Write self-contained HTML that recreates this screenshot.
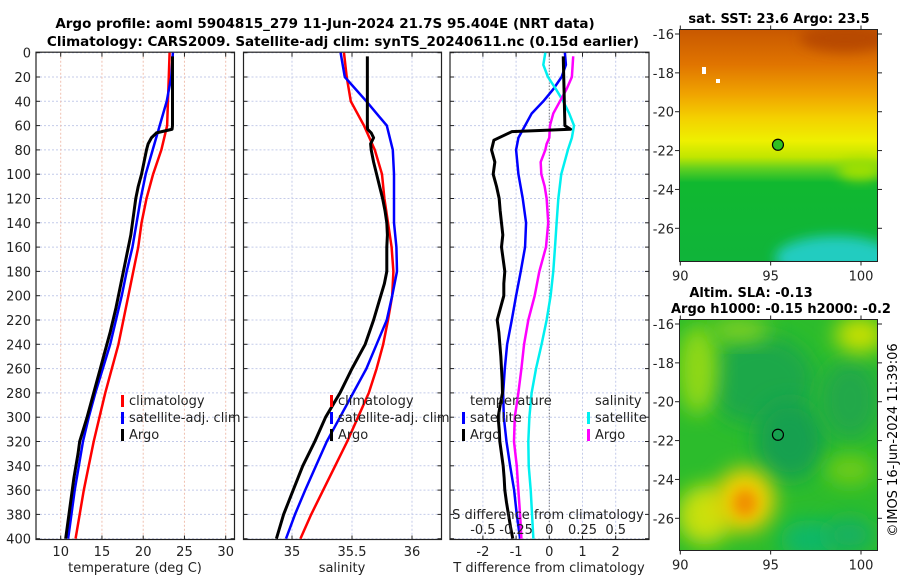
<!DOCTYPE html>
<html><head><meta charset="utf-8"><style>
html,body{margin:0;padding:0;background:#fff;}
svg{display:block;font-family:"DejaVu Sans","Liberation Sans",sans-serif;}
</style></head><body>
<svg id="fig" width="900" height="580" viewBox="0 0 900 580" xmlns="http://www.w3.org/2000/svg">
<defs>
<filter id="blur6" x="-50%" y="-50%" width="200%" height="200%"><feGaussianBlur stdDeviation="6"/></filter>
<filter id="blur10" x="-50%" y="-50%" width="200%" height="200%"><feGaussianBlur stdDeviation="10"/></filter>
<clipPath id="clipMap1"><rect x="679.5" y="29.5" width="198" height="232"/></clipPath>
<clipPath id="clipMap2"><rect x="679.5" y="319.5" width="198" height="231"/></clipPath>
<linearGradient id="sstGrad" x1="0" y1="0" x2="0" y2="1">
<stop offset="0" stop-color="#c85800"/><stop offset="0.15" stop-color="#e07400"/>
<stop offset="0.28" stop-color="#f0a400"/><stop offset="0.38" stop-color="#f4d000"/>
<stop offset="0.48" stop-color="#eef000"/><stop offset="0.55" stop-color="#c0e600"/>
<stop offset="0.6" stop-color="#60d020"/><stop offset="0.66" stop-color="#10b830"/>
<stop offset="1" stop-color="#10b43a"/></linearGradient>
</defs>
<g id="title" font-weight="bold" font-size="13.5" text-anchor="middle" fill="#000">
<text x="325" y="28">Argo profile: aoml 5904815_279 11-Jun-2024 21.7S 95.404E (NRT data)</text>
<text x="343" y="46">Climatology: CARS2009. Satellite-adj clim: synTS_20240611.nc (0.15d earlier)</text>
</g>
<g id="panels"></g>
<g id="maps"></g>
<text x="0" y="0" font-size="13" transform="translate(897,440) rotate(-90)" text-anchor="middle">©IMOS 16-Jun-2024 11:39:06</text>
</svg>
<script>
// ---------- data ----------
const climDepth = [0,20,40,60,80,100,120,140,160,180,200,220,240,260,280,300,320,340,360,380,400];
const tempClim = [23.2,23.1,23.0,22.9,22.2,21.2,20.4,19.8,19.4,18.8,18.2,17.6,17.0,16.2,15.4,14.7,14.0,13.4,12.8,12.3,11.8];
const tempSat = [23.6,23.4,22.85,22.0,21.15,20.3,19.7,19.2,18.7,18.0,17.4,16.7,16.0,15.1,14.2,13.4,12.7,12.2,11.7,11.3,10.9];
const salClim = [35.433,35.456,35.49,35.6,35.69,35.75,35.77,35.80,35.83,35.845,35.835,35.80,35.76,35.705,35.64,35.55,35.46,35.36,35.26,35.16,35.07];
const salSat = [35.405,35.44,35.62,35.79,35.84,35.85,35.85,35.85,35.87,35.875,35.835,35.79,35.705,35.62,35.51,35.40,35.29,35.2,35.11,35.025,34.95];
const argoDepth = [3,10,20,30,40,50,60,63,66,70,75,80,90,100,110,120,130,140,150,160,170,180,190,200,210,220,230,240,250,260,270,280,290,300,310,320,330,340,350,360,370,380,390,400];
const argoTemp = [23.55,23.55,23.55,23.55,23.55,23.55,23.55,23.5,21.6,21.0,20.6,20.4,20.1,19.8,19.4,19.1,18.9,18.7,18.5,18.2,17.9,17.6,17.3,17.0,16.7,16.35,16.0,15.6,15.2,14.8,14.4,14.0,13.6,13.2,12.75,12.3,12.1,11.85,11.6,11.4,11.2,11.0,10.8,10.6];
const argoSal = [35.628,35.628,35.628,35.628,35.628,35.628,35.628,35.63,35.66,35.68,35.655,35.66,35.68,35.705,35.73,35.755,35.775,35.79,35.795,35.79,35.79,35.79,35.77,35.74,35.71,35.68,35.645,35.61,35.555,35.50,35.45,35.40,35.34,35.28,35.235,35.19,35.14,35.09,35.05,35.01,34.97,34.93,34.90,34.87];
const tDiffArgoDepth = [3,60,63,65,72,80,90,100,110,120,130,140,150,160,170,180,190,200,210,220,230,240,250,260,270,280,290,300,310,320,330,340,350,360,370,380,390,400];
const tDiffArgo = [0.42,0.47,0.64,-1.13,-1.67,-1.74,-1.64,-1.69,-1.59,-1.51,-1.48,-1.44,-1.40,-1.44,-1.39,-1.34,-1.37,-1.37,-1.47,-1.57,-1.52,-1.49,-1.46,-1.44,-1.42,-1.41,-1.48,-1.54,-1.51,-1.49,-1.44,-1.39,-1.36,-1.34,-1.29,-1.23,-1.17,-1.10];
const satDiffDepth = [0,10,20,30,40,50,60,70,80,100,120,140,160,180,200,220,240,260,280,300,320,340,360,380,400];
const tDiffSat = [0.47,0.5,0.37,0.12,-0.18,-0.53,-0.73,-0.93,-1.0,-0.93,-0.80,-0.70,-0.73,-0.86,-1.0,-1.13,-1.27,-1.34,-1.39,-1.37,-1.29,-1.18,-1.06,-0.98,-0.88];
const sDiffSat = [-0.03,-0.045,-0.01,0.05,0.105,0.15,0.186,0.17,0.14,0.09,0.068,0.055,0.043,0.03,0.01,-0.02,-0.058,-0.10,-0.133,-0.15,-0.158,-0.155,-0.14,-0.13,-0.12];
const sDiffArgoDepth = [3,20,30,40,50,60,70,75,80,90,100,110,120,140,160,180,200,220,240,260,280,300,320,340,360,380,400];
const sDiffArgo = [0.18,0.17,0.13,0.08,0.03,0.005,0,-0.02,-0.03,-0.065,-0.06,-0.035,-0.02,-0.008,-0.025,-0.075,-0.11,-0.158,-0.19,-0.21,-0.233,-0.26,-0.266,-0.245,-0.233,-0.22,-0.21];
const depthTicks = [0,20,40,60,80,100,120,140,160,180,200,220,240,260,280,300,320,340,360,380,400];
const tempTicks = [10,15,20,25,30];
const salTicks = [35,35.5,36];
const salTickLabels = ["35","35.5","36"];
const tDiffTicks = [-2,-1,0,1,2];
const sDiffTicks = [-0.5,-0.25,0,0.25,0.5];
const sDiffTickLabels = ["-0.5","-0.25","0","0.25","0.5"];
const latTicks = [-16,-18,-20,-22,-24,-26];
const lonTicks = [90,95,100];
const argoLon = 95.404, argoLat = -21.7;

// ---------- helpers ----------
const NS = "http://www.w3.org/2000/svg";
function mk(tag, attrs, parent){const e=document.createElementNS(NS,tag);for(const k in attrs)e.setAttribute(k,attrs[k]);if(parent)parent.appendChild(e);return e;}
const top0 = 52.7, pxPerM = 1.215, bottom0 = 539.5;
function yD(d){return top0 + d*pxPerM;}
function linScale(d0,d1,r0,r1){return v=>r0+(v-d0)/(d1-d0)*(r1-r0);}
const panelsG = document.getElementById('panels');

function drawPanel(name, x0, x1, xs, vTicks, vGridColor){
  const g = mk('g',{},panelsG);
  
  
  const grid = mk('g',{},g);
  
  
  depthTicks.forEach(d=>{
    mk('line',{x1:x0,x2:x1,y1:yD(d),y2:yD(d),stroke:'#c4cbea','stroke-width':1,'stroke-dasharray':'2,2'},grid);
  });
  vTicks.forEach(v=>{
    const x=xs(v);
    mk('line',{x1:x,x2:x,y1:top0,y2:bottom0,stroke:vGridColor,'stroke-width':1,'stroke-dasharray':'2,2'},grid);
    mk('line',{x1:x,x2:x,y1:top0,y2:top0+4,stroke:'#222','stroke-width':1},g);
    mk('line',{x1:x,x2:x,y1:bottom0,y2:bottom0-4,stroke:'#222','stroke-width':1},g);
  });
  depthTicks.forEach(d=>{
    mk('line',{x1:x0,x2:x0+4,y1:yD(d),y2:yD(d),stroke:'#222','stroke-width':1},g);
    mk('line',{x1:x1,x2:x1-4,y1:yD(d),y2:yD(d),stroke:'#222','stroke-width':1},g);
  });
  const frame = mk('rect',{x:x0,y:top0-0.5,width:x1-x0,height:bottom0-top0+0.5,fill:'none',stroke:'#222','stroke-width':1.2},g);
  
  
  return g;
}
function drawLine(g, name, depths, vals, xs, color, w){
  const pts = depths.map((d,i)=>xs(vals[i]).toFixed(2)+','+yD(d).toFixed(2)).join(' ');
  const p = mk('polyline',{points:pts,fill:'none',stroke:color,'stroke-width':w,'stroke-linejoin':'round'},g);
  
  
}
function txt(g, name, x, y, s, attrs){
  const t = mk('text',Object.assign({x:x,y:y,'font-size':13,fill:'#222'},attrs||{}),g);
  t.textContent = s;
  
  
  return t;
}
function legendMark(g, name, x, y, color){
  const r = mk('rect',{x:x,y:y-6,width:3,height:12,fill:color},g);
  
  
}

// ---------- panel 1: temperature ----------
const xT = linScale(10,30,60.7,225.7);
const p1 = drawPanel('temperature-panel',36,234.5,xT,tempTicks,'#f0c0b0');
depthTicks.forEach(d=>txt(p1,'depth-tick-label',31,yD(d)+5,String(d),{'text-anchor':'end'}));
tempTicks.forEach(v=>txt(p1,'temp-tick-label',xT(v),556,String(v),{'text-anchor':'middle'}));
txt(p1,'temperature-axis-title',135,572,'temperature (deg C)',{'text-anchor':'middle'});
drawLine(p1,'temp-climatology-line',climDepth,tempClim,xT,'#ff0000',2.5);
drawLine(p1,'temp-satellite-line',climDepth,tempSat,xT,'#0000ff',2.5);
drawLine(p1,'temp-argo-line',argoDepth,argoTemp,xT,'#000',3);
legendMark(p1,'legend-climatology-mark',121,401,'#ff0000');
legendMark(p1,'legend-satellite-mark',121,418,'#0000ff');
legendMark(p1,'legend-argo-mark',121,435,'#000');
txt(p1,'legend-climatology',129,405,'climatology');
txt(p1,'legend-satellite-adj',129,422,'satellite-adj. clim');
txt(p1,'legend-argo',129,439,'Argo');

// ---------- panel 2: salinity ----------
const xS = linScale(35,36,292,412);
const p2 = drawPanel('salinity-panel',243.5,441.5,xS,salTicks,'#c4cbea');
salTicks.forEach((v,i)=>txt(p2,'sal-tick-label',xS(v),556,salTickLabels[i],{'text-anchor':'middle'}));
txt(p2,'salinity-axis-title',342,572,'salinity',{'text-anchor':'middle'});
drawLine(p2,'sal-climatology-line',climDepth,salClim,xS,'#ff0000',2.5);
drawLine(p2,'sal-satellite-line',climDepth,salSat,xS,'#0000ff',2.5);
drawLine(p2,'sal-argo-line',argoDepth,argoSal,xS,'#000',3);
legendMark(p2,'legend-climatology-mark',330,401,'#ff0000');
legendMark(p2,'legend-satellite-mark',330,418,'#0000ff');
legendMark(p2,'legend-argo-mark',330,435,'#000');
txt(p2,'legend-climatology',338,405,'climatology');
txt(p2,'legend-satellite-adj',338,422,'satellite-adj. clim');
txt(p2,'legend-argo',338,439,'Argo');

// ---------- panel 3: differences ----------
const xTd = linScale(0,1,549.3,582.5);
const xSd = v=>xTd(v*4);
const p3 = drawPanel('difference-panel',450,649,xTd,tDiffTicks,'#c4cbea');
mk('line',{x1:xTd(0),x2:xTd(0),y1:top0,y2:bottom0,stroke:'#555','stroke-width':1,'stroke-dasharray':'1,2'},p3);
tDiffTicks.forEach(v=>txt(p3,'tdiff-tick-label',xTd(v),556,String(v),{'text-anchor':'middle'}));
txt(p3,'tdiff-axis-title',549,572,'T difference from climatology',{'text-anchor':'middle'});
drawLine(p3,'tdiff-satellite-line',satDiffDepth,tDiffSat,xTd,'#0000ff',2.5);
drawLine(p3,'sdiff-satellite-line',satDiffDepth,sDiffSat,xSd,'#00f0f0',2.5);
drawLine(p3,'sdiff-argo-line',sDiffArgoDepth,sDiffArgo,xSd,'#ff00ff',2.5);
drawLine(p3,'tdiff-argo-line',tDiffArgoDepth,tDiffArgo,xTd,'#000',3);
txt(p3,'legend-temperature-heading',470,405,'temperature');
legendMark(p3,'legend-t-satellite-mark',462,418,'#0000ff');
legendMark(p3,'legend-t-argo-mark',462,435,'#000');
txt(p3,'legend-t-satellite',470,422,'satellite');
txt(p3,'legend-t-argo',470,439,'Argo');
txt(p3,'legend-salinity-heading',595,405,'salinity');
legendMark(p3,'legend-s-satellite-mark',587,418,'#00f0f0');
legendMark(p3,'legend-s-argo-mark',587,435,'#ff00ff');
txt(p3,'legend-s-satellite',595,422,'satellite');
txt(p3,'legend-s-argo',595,439,'Argo');
txt(p3,'sdiff-axis-title',548,519,'S difference from climatology',{'text-anchor':'middle'});
sDiffTicks.forEach((v,i)=>txt(p3,'sdiff-tick-label',xSd(v),534,sDiffTickLabels[i],{'text-anchor':'middle'}));

// ---------- maps ----------
const mapsG = document.getElementById('maps');
const xLon = linScale(90,100,680.3,861);
function drawMapAxes(g, top, bottom, yLat){
  mk('rect',{x:679.5,y:top,width:198,height:bottom-top,fill:'none',stroke:'#222','stroke-width':1},g);
  latTicks.forEach(v=>{
    const y=yLat(v);
    mk('line',{x1:679.5,x2:675,y1:y,y2:y,stroke:'#222'},g);
    mk('line',{x1:877.5,x2:882,y1:y,y2:y,stroke:'#222'},g);
    txt(g,'lat-tick-label',674,y+5,String(v),{'text-anchor':'end'});
  });
  lonTicks.forEach(v=>{
    const x=xLon(v);
    mk('line',{x1:x,x2:x,y1:bottom,y2:bottom+4,stroke:'#222'},g);
    mk('line',{x1:x,x2:x,y1:top,y2:top-4,stroke:'#222'},g);
    txt(g,'lon-tick-label',x,bottom+19,String(v),{'text-anchor':'middle'});
  });
}
// SST map
const yLat1 = linScale(-16,-26,34,228.3);
const m1 = mk('g',{},mapsG);


const m1c = mk('g',{'clip-path':'url(#clipMap1)'},m1);
mk('rect',{x:679.5,y:29.5,width:198,height:232,fill:'url(#sstGrad)'},m1c);
mk('ellipse',{cx:845,cy:38,rx:45,ry:14,fill:'#b84800',filter:'url(#blur6)'},m1c);
mk('ellipse',{cx:835,cy:258,rx:60,ry:22,fill:'#22ccc0',filter:'url(#blur6)'},m1c);
mk('ellipse',{cx:860,cy:170,rx:22,ry:10,fill:'#a0e000',filter:'url(#blur6)'},m1c);
mk('rect',{x:702,y:67,width:4,height:7,fill:'#fff'},m1c);
mk('rect',{x:716,y:79,width:4,height:4,fill:'#fff'},m1c);
const c1 = mk('circle',{cx:xLon(argoLon),cy:yLat1(argoLat),r:5.5,fill:'#30c020',stroke:'#000','stroke-width':1.2},m1);


drawMapAxes(m1,29.5,261.5,yLat1);
txt(m1,'sst-map-title',779,23,'sat. SST: 23.6 Argo: 23.5',{'text-anchor':'middle','font-weight':'bold','fill':'#000'});
// SLA map
const yLat2 = linScale(-16,-26,324,518.3);
const m2 = mk('g',{},mapsG);


const m2c = mk('g',{'clip-path':'url(#clipMap2)'},m2);
mk('rect',{x:679.5,y:319.5,width:198,height:231,fill:'#2cbc2c'},m2c);
[[760,380,55,45,'#1aa848'],[790,440,35,40,'#16a050'],[850,400,30,40,'#20a848'],[810,540,30,20,'#10b868'],[850,535,25,18,'#18b060'],[698,370,20,45,'#90d818'],[860,335,25,18,'#c8e000'],[740,330,30,12,'#80d020'],[705,515,28,30,'#c8e010'],[850,470,25,15,'#70cc18'],[745,500,30,32,'#f0d000']].forEach(e=>{
  mk('ellipse',{cx:e[0],cy:e[1],rx:e[2],ry:e[3],fill:e[4],filter:'url(#blur10)'},m2c);
});
mk('ellipse',{cx:745,cy:503,rx:12,ry:14,fill:'#f09000',filter:'url(#blur6)'},m2c);
const c2 = mk('circle',{cx:xLon(argoLon),cy:yLat2(argoLat),r:5.5,fill:'none',stroke:'#000','stroke-width':1.2},m2);


drawMapAxes(m2,319.5,550.5,yLat2);
txt(m2,'sla-map-title',751,297,'Altim. SLA: -0.13',{'text-anchor':'middle','font-weight':'bold','fill':'#000'});
txt(m2,'sla-map-subtitle',781,313,'Argo h1000: -0.15 h2000: -0.2',{'text-anchor':'middle','font-weight':'bold','fill':'#000'});
</script>
</body></html>
